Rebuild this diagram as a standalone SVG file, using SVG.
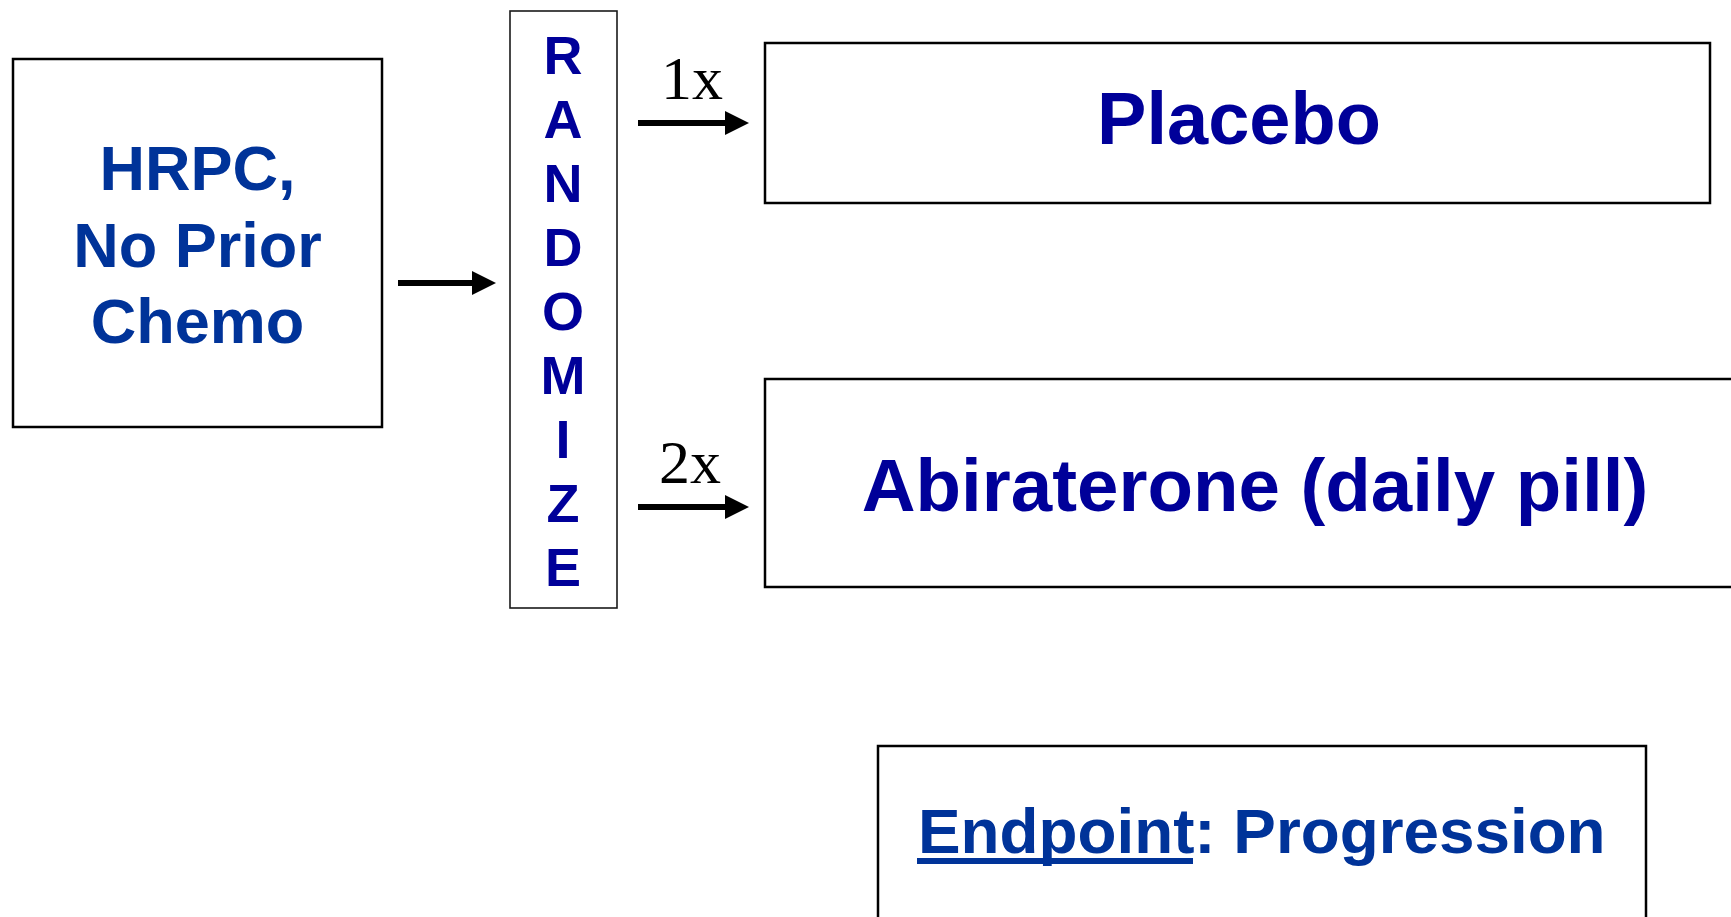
<svg xmlns="http://www.w3.org/2000/svg" width="1731" height="917" viewBox="0 0 1731 917">
  <style>
    .box { fill: #ffffff; stroke: #000000; stroke-width: 2.5; }
    .thin { fill: #ffffff; stroke: #1a1a1a; stroke-width: 1.6; }
    .lbl { font-family: "Liberation Sans", Arial, sans-serif; font-weight: bold; text-anchor: middle; }
    .navy { fill: #000099; }
    .blue { fill: #003399; }
    .ratio { font-family: "Liberation Serif", "Times New Roman", serif; font-size: 62px; fill: #000000; text-anchor: middle; }
    .conn { stroke: #000000; stroke-width: 6; fill: none; marker-end: url(#head); }
  </style>
  <defs>
    <marker id="head" markerUnits="userSpaceOnUse" viewBox="0 0 24 24" refX="4" refY="12" markerWidth="24" markerHeight="24" orient="auto">
      <path d="M0,0 L24,12 L0,24 Z" fill="#000000"/>
    </marker>
  </defs>

  <rect width="1731" height="917" fill="#ffffff"/>

  <g id="population">
    <rect class="box" x="13" y="59" width="369" height="368"/>
    <text class="lbl blue" font-size="63" x="197.5" y="190">HRPC,</text>
    <text class="lbl blue" font-size="63" x="197.5" y="267">No Prior</text>
    <text class="lbl blue" font-size="63" x="197.5" y="343">Chemo</text>
  </g>

  <g id="randomize">
    <rect class="thin" x="510" y="11" width="107" height="597"/>
    <g class="lbl navy" font-size="54">
      <text x="563" y="74">R</text>
      <text x="563" y="138">A</text>
      <text x="563" y="202">N</text>
      <text x="563" y="266">D</text>
      <text x="563" y="330">O</text>
      <text x="563" y="394">M</text>
      <text x="563" y="458">I</text>
      <text x="563" y="522">Z</text>
      <text x="563" y="586">E</text>
    </g>
  </g>

  <g id="placebo">
    <rect class="box" x="765" y="43" width="945" height="160"/>
    <text class="lbl navy" font-size="74" x="1239" y="144">Placebo</text>
  </g>

  <g id="abiraterone">
    <rect class="box" x="765" y="379" width="985" height="208"/>
    <text class="lbl navy" font-size="74.5" x="1255" y="511">Abiraterone (daily pill)</text>
  </g>

  <g id="endpoint">
    <rect class="box" x="878" y="746" width="768" height="200"/>
    <text font-family="Liberation Sans, Arial, sans-serif" font-weight="bold" font-size="63.8" class="blue" x="918" y="853">Endpoint: Progression</text>
    <rect class="blue" x="917" y="858" width="276" height="6"/>
  </g>

  <g id="connectors">
    <line class="conn" x1="398" y1="283" x2="476" y2="283"/>
    <line class="conn" x1="638" y1="123" x2="729" y2="123"/>
    <line class="conn" x1="638" y1="507" x2="729" y2="507"/>
    <text class="ratio" x="692" y="99">1x</text>
    <text class="ratio" x="690" y="483">2x</text>
  </g>
</svg>
